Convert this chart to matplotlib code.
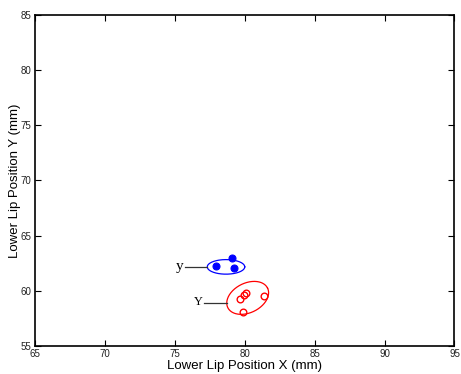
import numpy as np
import matplotlib
matplotlib.use("Agg")
import matplotlib.pyplot as plt

# data (mm)
blue_x = [79.07, 77.93, 79.21]
blue_y = [63.00, 62.24, 62.10]
red_x = [79.69, 79.93, 80.12, 81.36, 79.84]
red_y = [59.28, 59.59, 59.77, 59.55, 58.07]

# ellipses: center and axis vectors (data units)
blue_center = (78.66, 62.17)
blue_axes = ((1.34, 0.0), (0.0, 0.66))
red_center = (80.21, 59.36)
red_axes = ((1.42, 0.89), (-0.47, 1.20))

xticks = [65, 70, 75, 80, 85, 90, 95]
yticks = [55, 60, 65, 70, 75, 80, 85]

plt.rcParams['font.family'] = ['Liberation Sans', 'DejaVu Sans']

fig = plt.figure(figsize=(4.61, 3.74), dpi=100)
ax = fig.add_axes([0.0759, 0.0749, 0.9100, 0.8850])

t = np.linspace(0, 2 * np.pi, 200)

def ell(center, axes_):
    (a1, a2), (b1, b2) = axes_
    x = center[0] + a1 * np.cos(t) + b1 * np.sin(t)
    y = center[1] + a2 * np.cos(t) + b2 * np.sin(t)
    return x, y

ex, ey = ell(blue_center, blue_axes)
ax.plot(ex, ey, color='blue', lw=0.9)
ex, ey = ell(red_center, red_axes)
ax.plot(ex, ey, color='red', lw=0.9)

ax.plot(blue_x, blue_y, 'o', color='blue', markersize=5.0, markeredgewidth=0.8)
ax.plot(red_x, red_y, 'o', markerfacecolor='none', markeredgecolor='red',
        markersize=4.8, markeredgewidth=1.0)

# label lines
ax.plot([75.7, blue_center[0] - 1.34], [62.2, 62.2], color='#333333', lw=0.9)
ax.plot([77.1, 78.75], [58.9, 58.9], color='#333333', lw=0.9)
ax.text(75.6, 62.2, 'y', family=['Liberation Serif', 'DejaVu Serif'],
        fontsize=11, ha='right', va='center')
ax.text(77.0, 58.95, 'Y', family=['Liberation Serif', 'DejaVu Serif'],
        fontsize=9, ha='right', va='center')

ax.set_xlim(65, 95)
ax.set_ylim(55, 85)
ax.set_xticks(xticks)
ax.set_yticks(yticks)
ax.set_xticklabels([str(v) for v in xticks])
ax.set_yticklabels([str(v) for v in yticks])
ax.tick_params(direction='in', length=4, width=0.8, top=True, right=True,
               labelsize=7, pad=2.5, labelcolor='#222222')
for s in ax.spines.values():
    s.set_linewidth(1.2)
ax.set_xlabel('Lower Lip Position X (mm)', fontsize=9.5, labelpad=0.5)
ax.set_ylabel('Lower Lip Position Y (mm)', fontsize=9.5, labelpad=0)

fig.savefig('out.png', dpi=100)
